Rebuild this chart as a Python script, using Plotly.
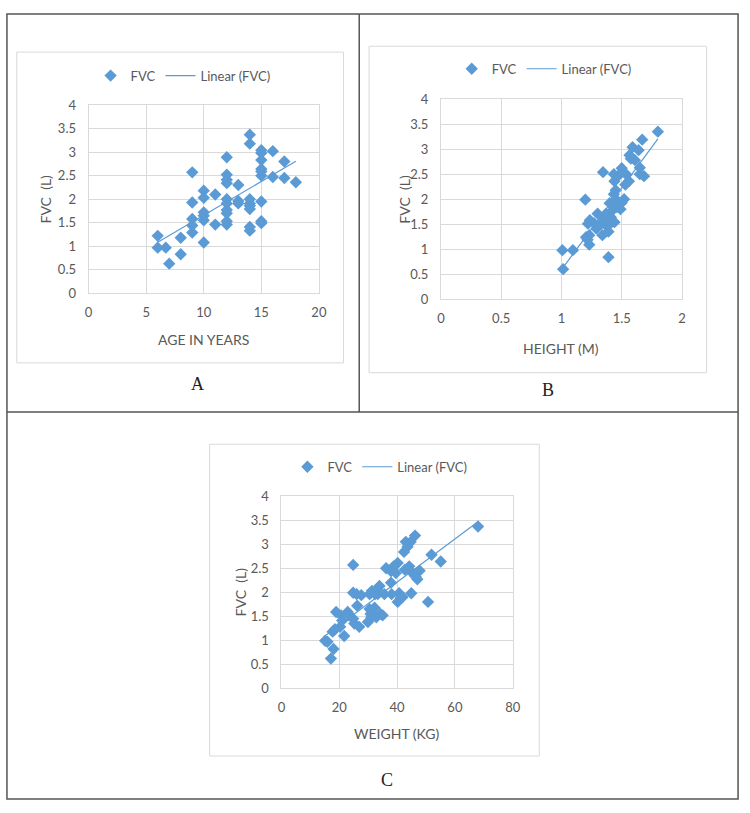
import numpy as np
import plotly.graph_objects as go

# ---------------- data ----------------
age_years = [6, 6, 6.7, 7, 8, 8, 9, 9, 9, 9, 9, 10, 10, 10, 10, 10, 10, 11, 11,
             12, 12, 12, 12, 12, 12, 12, 12, 12, 12, 13, 13, 13,
             14, 14, 14, 14, 14, 14, 14, 14,
             15, 15, 15, 15, 15, 15, 15, 15, 15, 16, 16, 17, 17, 18]
fvc_age = [1.22, 0.97, 0.97, 0.63, 1.18, 0.83, 2.57, 1.93, 1.58, 1.44, 1.29,
           2.18, 2.03, 1.72, 1.65, 1.55, 1.08, 2.10, 1.46,
           2.89, 2.52, 2.41, 2.34, 2.00, 1.91, 1.77, 1.70, 1.53, 1.46,
           2.30, 1.96, 1.91,
           3.37, 3.18, 2.00, 1.91, 1.86, 1.79, 1.41, 1.33,
           3.04, 2.98, 2.83, 2.64, 2.59, 2.50, 1.95, 1.53, 1.49,
           3.02, 2.47, 2.80, 2.45, 2.36]

height_m = [1.014, 1.008, 1.095, 1.198, 1.204, 1.217, 1.231, 1.231, 1.236, 1.22,
            1.27, 1.30, 1.29, 1.33, 1.34, 1.345, 1.35, 1.37, 1.38, 1.39, 1.39,
            1.39, 1.40, 1.41, 1.42, 1.435, 1.435, 1.44, 1.44, 1.45, 1.45, 1.46,
            1.475, 1.48, 1.49, 1.50, 1.50, 1.52, 1.53, 1.54, 1.56, 1.565, 1.576,
            1.59, 1.61, 1.64, 1.65, 1.65, 1.67, 1.685, 1.80]
fvc_height = [0.60, 0.98, 0.98, 1.99, 1.24, 1.19, 1.09, 1.28, 1.58, 1.51,
              1.52, 1.71, 1.41, 1.51, 1.28, 2.54, 1.59, 1.71, 1.45, 0.84, 1.35,
              1.51, 1.92, 1.64, 1.77, 2.10, 2.50, 2.36, 1.54, 2.00, 2.18, 1.84,
              1.93, 2.49, 1.80, 2.62, 1.93, 2.00, 2.29, 2.49, 2.36, 2.88, 2.81,
              3.04, 2.78, 2.98, 2.63, 2.50, 3.19, 2.46, 3.35]

weight_kg = [15.1, 15.9, 17.1, 18.0, 17.7, 18.5, 18.9, 20.3, 20.6, 21.0, 21.7,
             22.9, 23.4, 24.8, 24.8, 24.8, 25.2, 26.0, 26.2, 26.9, 27.6, 29.9,
             30.5, 30.5, 30.8, 31.1, 31.3, 31.6, 32.2, 32.4, 32.8, 33.0, 33.3,
             33.9, 34.2, 35.0, 35.6, 36.2, 37.9, 37.9, 38.1, 38.8, 39.6, 40.2,
             40.2, 40.7, 41.3, 41.9, 42.4, 42.7, 43.0, 43.6, 44.2, 44.7, 44.9,
             45.3, 46.2, 46.4, 47.0, 47.8, 50.7, 51.9, 55.1, 68.0]
fvc_weight = [0.99, 0.97, 0.62, 0.82, 1.18, 1.23, 1.59, 1.28, 1.52, 1.41, 1.09,
              1.59, 1.52, 2.57, 1.99, 1.45, 1.35, 1.96, 1.72, 1.28, 1.94, 1.38,
              1.96, 1.65, 1.55, 1.48, 2.03, 1.51, 1.68, 1.96, 1.48, 2.06, 1.96,
              2.13, 1.55, 1.52, 1.96, 2.50, 2.20, 2.44, 1.96, 2.54, 2.40, 1.80,
              2.61, 1.98, 1.89, 1.90, 2.84, 2.47, 3.05, 2.95, 2.54, 3.05, 1.98,
              2.40, 3.18, 2.33, 2.27, 2.45, 1.80, 2.78, 2.64, 3.37]

panels = [
    dict(x=age_years, y=fvc_age, xrange=[0, 20], dtick=5, xtitle="AGE IN YEARS", label="A"),
    dict(x=height_m, y=fvc_height, xrange=[0, 2], dtick=0.5, xtitle="HEIGHT (M)", label="B"),
    dict(x=weight_kg, y=fvc_weight, xrange=[0, 80], dtick=20, xtitle="WEIGHT (KG)", label="C"),
]

# ---------------- layout helpers ----------------
W, H = 750, 813
def px(x):
    return x / W
def py(y):
    return 1 - y / H

BLUE = "#5B9BD5"
GRID = "#D9D9D9"
TXT = "#595959"
FONT = "Lato"

# plot areas (left, right, top, bottom) in pixels
areas = [(86, 320, 99, 291), (444, 689, 93, 297), (282, 517, 498, 694)]
boxes = [(13, 345, 45, 362), (371, 714, 39, 372), (209, 544, 445, 763)]
legend_pos = [(182, 69), (549, 62), (382, 468)]
ytitle_pos = [(42, 195), (407, 195), (240, 596)]
xtitle_pos = [(203, 338), (566, 347), (399, 740)]
label_pos = [(197, 384), (553, 390), (389, 787)]

fig = go.Figure()
layout = dict(
    width=W, height=H, margin=dict(l=0, r=0, t=0, b=0),
    paper_bgcolor="white", plot_bgcolor="white",
    font=dict(family=FONT, color=TXT, size=13),
    shapes=[], annotations=[],
)

for i, p in enumerate(panels):
    n = "" if i == 0 else str(i + 1)
    leg = "legend" if i == 0 else f"legend{i + 1}"
    xa, ya = f"x{n}", f"y{n}"
    xs = np.array(p["x"], dtype=float)
    ys = np.array(p["y"], dtype=float)
    slope, inter = np.polyfit(xs, ys, 1)
    xl = np.array([xs.min(), xs.max()])
    yl = slope * xl + inter

    fig.add_trace(go.Scatter(
        x=xs, y=ys, mode="markers", name="FVC", xaxis=xa, yaxis=ya, legend=leg,
        marker=dict(symbol="diamond", size=9.5, color=BLUE, line=dict(width=0)),
    ))
    fig.add_trace(go.Scatter(
        x=xl, y=yl, mode="lines", name="Linear (FVC)", xaxis=xa, yaxis=ya, legend=leg,
        line=dict(color=BLUE, width=1.2),
    ))

    l, r, t, b = areas[i]
    layout[f"xaxis{n}"] = dict(
        domain=[px(l), px(r)], anchor=ya, range=p["xrange"], dtick=p["dtick"], tick0=0,
        showgrid=True, gridcolor=GRID, gridwidth=1, zeroline=False,
        showline=True, linecolor=GRID, mirror=True, ticks="",
        ticklabelstandoff=7, tickfont=dict(family=FONT, size=13, color=TXT),
        fixedrange=True,
    )
    layout[f"yaxis{n}"] = dict(
        domain=[py(b), py(t)], anchor=xa, range=[0, 4], dtick=0.5, tick0=0,
        showgrid=True, gridcolor=GRID, gridwidth=1, zeroline=False,
        showline=True, linecolor=GRID, mirror=True, ticks="",
        ticklabelstandoff=9, tickfont=dict(family=FONT, size=13, color=TXT),
        fixedrange=True,
    )
    lx, ly = legend_pos[i]
    layout[leg] = dict(
        orientation="h", x=px(lx), y=py(ly), xanchor="center", yanchor="middle",
        bgcolor="rgba(0,0,0,0)", font=dict(family=FONT, size=13, color=TXT),
    )

    bl, br, bt, bb = boxes[i]
    layout["shapes"].append(dict(type="rect", xref="paper", yref="paper",
                                 x0=px(bl), x1=px(br), y0=py(bb), y1=py(bt),
                                 line=dict(color=GRID, width=1), layer="below"))

    yx, yy = ytitle_pos[i]
    layout["annotations"].append(dict(text="FVC  (L)", x=px(yx), y=py(yy), xref="paper", yref="paper",
                                      xanchor="center", yanchor="middle",
                                      textangle=-90, showarrow=False,
                                      font=dict(family=FONT, size=14, color=TXT)))
    tx, ty = xtitle_pos[i]
    layout["annotations"].append(dict(text=p["xtitle"], x=px(tx), y=py(ty), xref="paper", yref="paper",
                                      xanchor="center", yanchor="middle",
                                      showarrow=False, font=dict(family=FONT, size=14, color=TXT)))
    ax_, ay_ = label_pos[i]
    layout["annotations"].append(dict(text=p["label"], x=px(ax_), y=py(ay_), xref="paper", yref="paper",
                                      xanchor="center", yanchor="middle", showarrow=False,
                                      font=dict(family="Liberation Serif", size=18, color="#222222")))

# outer table frame
FRAME = "#555555"
layout["shapes"] += [
    dict(type="rect", xref="paper", yref="paper", x0=px(3), x1=px(746), y0=py(807), y1=py(6),
         line=dict(color=FRAME, width=1.5)),
    dict(type="line", xref="paper", yref="paper", x0=px(361), x1=px(361), y0=py(412), y1=py(6),
         line=dict(color=FRAME, width=1.5)),
    dict(type="line", xref="paper", yref="paper", x0=px(3), x1=px(746), y0=py(412), y1=py(412),
         line=dict(color=FRAME, width=1.5)),
]

fig.update_layout(**layout)
fig.write_html("out.html")
